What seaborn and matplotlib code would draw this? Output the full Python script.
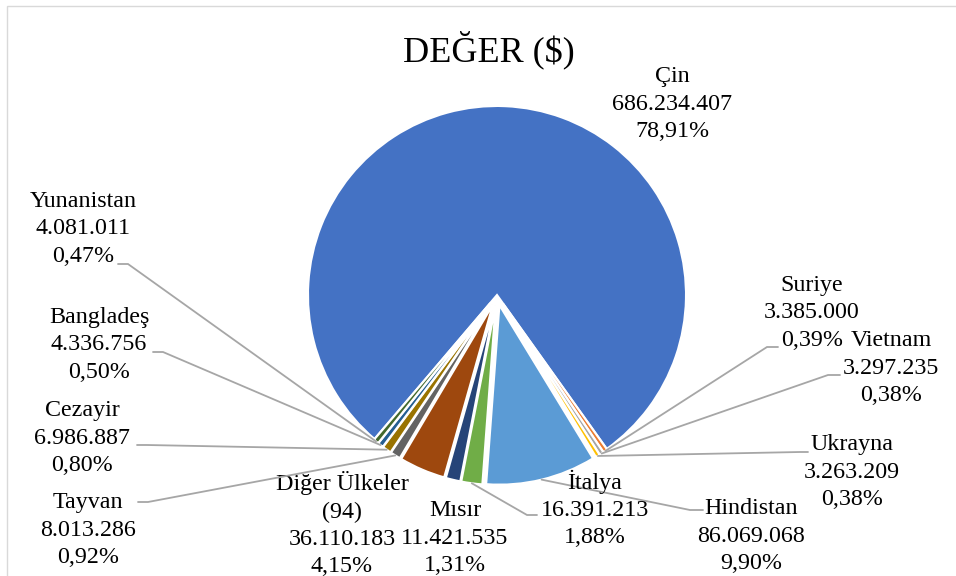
import matplotlib
matplotlib.use("Agg")
import matplotlib.pyplot as plt
import seaborn as sns
import numpy as np
from matplotlib.patches import Rectangle

OUTPUT_FILE = "out.png"

# --- data (clockwise, starting with the big slice) ---
countries = ["Çin", "Suriye", "Vietnam", "Ukrayna", "Hindistan", "İtalya", "Mısır",
             "Diğer Ülkeler\n(94)", "Tayvan", "Cezayir", "Bangladeş", "Yunanistan"]
values = [686234407, 3385000, 3297235, 3263209, 86069068, 16391213, 11421535,
          36110183, 8013286, 6986887, 4336756, 4081011]

# Excel office palette
colors = ["#4472C4", "#ED7D31", "#A5A5A5", "#FFC000", "#5B9BD5", "#70AD47",
          "#264478", "#9E480E", "#636363", "#997300", "#255E91", "#43682B"]

# label layout in pixels (block centre) and leader line (label end, elbow)
label_xy = [(672, 104), (812, 313), (891, 368), (852, 472), (751, 536), (595, 509),
            (455, 538), (342, 524), (88, 530), (82, 438), (99, 345), (83, 229)]
leaders = [None, ((778, 347), (767, 347)), ((840, 375), (828, 375)),
           ((808, 452), (800, 452)), ((703, 510), (690, 510)), ((537, 515), (527, 515)),
           None, None, ((138, 502), (148, 502)), ((137, 445), (147, 445)),
           ((153, 352), (163, 352)), ((118, 264), (128, 264))]

W, H = 956, 576
CX, CY, R = 497, 295, 189   # pie centre and radius in pixels


def to_data(x, y):
    return (x - CX) / R, (CY - y) / R


def main():
    sns.set_theme(style="white")
    plt.rcParams['font.family'] = ['Liberation Serif', 'DejaVu Serif']

    fig = plt.figure(figsize=(W / 100, H / 100), dpi=100)
    ax = fig.add_axes([0, 0, 1, 1])

    explode = [0.0] + [0.055] * (len(values) - 1)
    wedges, _ = ax.pie(values, colors=colors, startangle=229.6, counterclock=False,
                       explode=explode, radius=1.0,
                       wedgeprops=dict(edgecolor="white", linewidth=1.5))
    for w in wedges[1:]:
        w.set_radius(0.95)

    x0, y0 = to_data(0, H)
    x1, y1 = to_data(W, 0)
    ax.set_xlim(x0, x1)
    ax.set_ylim(y0, y1)
    ax.set_aspect("auto")
    ax.axis("off")

    total = sum(values)
    for i, name in enumerate(countries):
        pct = values[i] / total * 100
        num = f"{values[i]:,}".replace(",", ".")
        pct_txt = f"{pct:.2f}".replace(".", ",") + "%"
        txt = f"{name}\n{num}\n{pct_txt}"
        lx, ly = to_data(*label_xy[i])
        ax.text(lx, ly, txt, ha="center", va="center", fontsize=17.3,
                linespacing=1.38, color="black")

        if leaders[i] is not None:
            w = wedges[i]
            mid = np.deg2rad((w.theta1 + w.theta2) / 2)
            px = w.center[0] + w.r * np.cos(mid)
            py = w.center[1] + w.r * np.sin(mid)
            (ax_, ay_), (bx_, by_) = leaders[i]
            a = to_data(ax_, ay_)
            b = to_data(bx_, by_)
            ax.plot([a[0], b[0], px], [a[1], b[1], py], color="#A6A6A6", lw=1.3,
                    solid_joinstyle="miter", zorder=3)

    tx, ty = to_data(489, 50)
    ax.text(tx, ty, "DEĞER ($)", ha="center", va="center", fontsize=26, color="black")

    # chart border
    fig.add_artist(Rectangle((7 / W, -0.05), 1.1, 1 - 6 / H + 0.05,
                             transform=fig.transFigure, fill=False,
                             edgecolor="#D9D9D9", lw=1.0))

    fig.savefig(OUTPUT_FILE, dpi=100)


if __name__ == "__main__":
    main()
